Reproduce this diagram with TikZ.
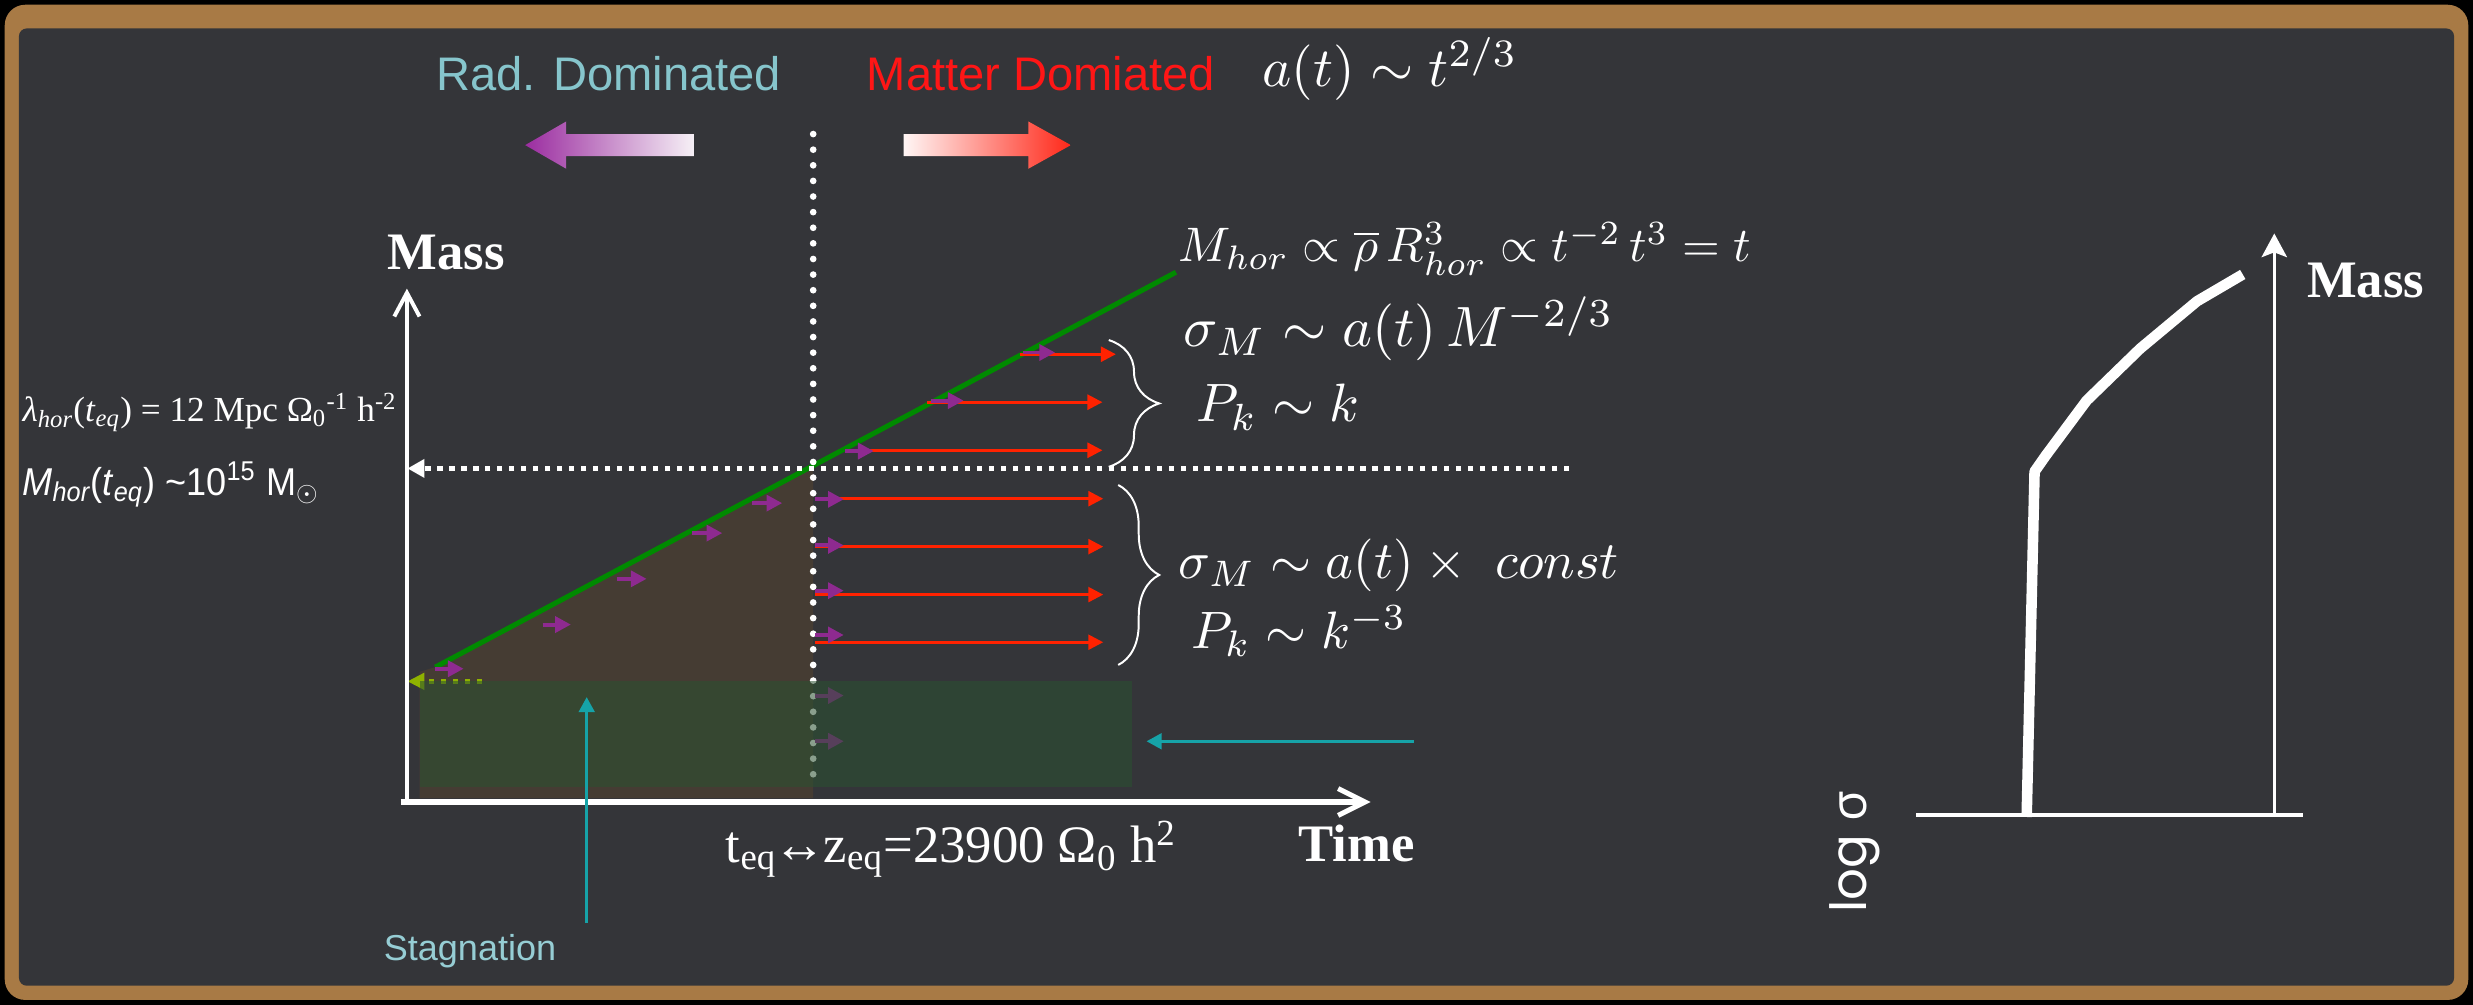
\documentclass[tikz,border=0pt]{standalone}
\usepackage{fontspec}
\usepackage{graphicx}
\usetikzlibrary{arrows.meta,decorations.pathreplacing}
\newfontfamily\arialf{Liberation Sans}
\newfontfamily\arialn[FakeStretch=0.93]{Liberation Sans}
\newfontfamily\timesf{Liberation Serif}
\newfontfamily\popf{Poppins}
\newfontfamily\opensf{Open Sans}
\definecolor{board}{RGB}{52,53,57}
\definecolor{framec}{RGB}{168,122,69}
\definecolor{tealtxt}{RGB}{134,197,204}
\definecolor{stagtxt}{RGB}{150,205,212}
\definecolor{mattred}{RGB}{255,22,22}
\definecolor{grn}{RGB}{0,138,0}
\definecolor{redarr}{RGB}{255,34,0}
\definecolor{purp}{RGB}{142,42,144}
\definecolor{cyanarr}{RGB}{22,163,168}
\definecolor{ygreen}{RGB}{143,178,0}
\definecolor{brownfill}{RGB}{87,68,46}
\definecolor{greenfill}{RGB}{42,81,49}
\definecolor{gpurp}{RGB}{155,45,160}
\definecolor{gwhite}{RGB}{246,240,246}
\definecolor{gwhiteb}{RGB}{255,246,245}
\definecolor{gred}{RGB}{255,40,25}
\begin{document}
\begin{tikzpicture}[x=0.2mm,y=-0.2mm,
  redarrow/.style={draw=redarr, line width=0.34mm, -{Triangle[length=1.9mm,width=1.9mm]}},
  purparrow/.style={draw=purp, line width=0.5mm, -{Triangle[length=2mm,width=2mm]}},
  cyanarrow/.style={draw=cyanarr, line width=0.32mm, -{Triangle[length=1.9mm,width=2mm]}},
  sqdots/.style={line width=0.66mm, dash pattern=on 0.66mm off 0.86mm},
  rounddots/.style={draw=white, line width=0.85mm, line cap=round, dash pattern=on 0mm off 1.98mm},
  lbl/.style={inner sep=0pt, text=white},
  bracestyle/.style={draw=white, line width=0.25mm, decorate},
]
\useasboundingbox (0,0) rectangle (1568,637);
\fill[black] (0,0) rectangle (1568,637);
\fill[framec, rounded corners=2.6mm] (3,3) rectangle (1565,634);
\fill[board, rounded corners=1mm] (12,18) rectangle (1556,625);

% top labels
\node[lbl, text=tealtxt, font=\arialf\fontsize{17}{20}\selectfont] (rad) at (386,47) {Rad. Dominated};
\node[lbl, text=mattred, font=\arialf\fontsize{17}{20}\selectfont] (mat) at (660,47) {Matter Domiated};
\node[lbl, anchor=base west] (atlaw) at (800,55) {\scalebox{2.0}{$a(t)\sim t^{2/3}$}};

% gradient arrows
\shade[left color=gpurp, right color=gwhite] (333,92) -- (359,77) -- (359,85) -- (440,85) -- (440,99) -- (359,99) -- (359,107) -- cycle;
\shade[left color=gwhiteb, right color=gred] (573,85) -- (652,85) -- (652,77) -- (679,92) -- (652,107) -- (652,99) -- (573,99) -- cycle;

% brown triangle
\fill[brownfill, opacity=0.5] (266,426) -- (276,423) -- (515.6,297) -- (515.6,506) -- (266,506) -- cycle;

% green horizon line
\coordinate (g0) at (276,423);
\coordinate (g1) at (745.6,172.6);
\draw[grn, line width=0.64mm] (g0) -- (g1);

% vertical dotted line
\coordinate (v0) at (515.6,85);
\coordinate (v1) at (515.6,493);
\draw[rounddots] (v0) -- (v1);

% horizontal dotted arrow
\coordinate (h0) at (995,297);
\coordinate (h1) at (267,297);
\draw[white, sqdots] (h0) -- (h1);
\fill[white] (258.5,297) -- (269,291) -- (269,303) -- cycle;

% yellow-green dotted arrow
\coordinate (y0) at (305.5,432);
\coordinate (y1) at (268,432);
\draw[ygreen, sqdots] (y0) -- (y1);
\fill[ygreen] (258.5,432) -- (269,426.5) -- (269,437.5) -- cycle;

% red arrows above horizon
\draw[redarrow] (647,224.6) -- (707.5,224.6);
\draw[redarrow] (588,255) -- (699,255);
\draw[redarrow] (536,285.5) -- (699,285.5);
% red arrows below horizon
\draw[redarrow] (517,316.2) -- (699.5,316.2);
\draw[redarrow] (517,346.6) -- (699.5,346.6);
\draw[redarrow] (517,377) -- (699.5,377);
\draw[redarrow] (517,407.2) -- (699.5,407.2);

% purple arrows
\draw[purparrow] (648.5,223.5) -- (669,223.5);
\draw[purparrow] (590,254) -- (611,254);
\draw[purparrow] (536,286) -- (554,286);
\draw[purparrow] (517,316.6) -- (535,316.6);
\draw[purparrow] (517,345.8) -- (535,345.8);
\draw[purparrow] (517,374.5) -- (535,374.5);
\draw[purparrow] (517,402.6) -- (535,402.6);
\draw[purparrow] (276,424) -- (294,424);
\draw[purparrow] (344,396) -- (362,396);
\draw[purparrow] (391,367) -- (410,367);
\draw[purparrow] (439,338) -- (458,338);
\draw[purparrow] (477,319) -- (496,319);
\draw[purparrow] (517,441) -- (535,441);
\draw[purparrow] (517,470) -- (535,470);

% green stagnation rectangle
\fill[greenfill, opacity=0.55] (266,432) rectangle (718,499);

% axes
\coordinate (yb) at (258,510);
\coordinate (ytop) at (258,183);
\coordinate (xb) at (254,508.5);
\coordinate (xend) at (869,508.5);
\draw[white, line width=0.5mm, -{Straight Barb[length=3mm,width=3.2mm]}] (yb) -- (ytop);
\draw[white, line width=0.64mm, -{Straight Barb[length=3.4mm,width=3.4mm]}] (xb) -- (xend);

\node[lbl, font=\timesf\bfseries\fontsize{19}{22}\selectfont] (mass) at (283,160) {Mass};
\node[lbl, font=\timesf\bfseries\fontsize{19}{22}\selectfont] (time) at (860,535) {Time};

% cyan arrows
\node[lbl, text=stagtxt, font=\arialf\fontsize{13}{15}\selectfont] (stag) at (298,603) {Stagnation};
\coordinate (c0) at (372,585);
\coordinate (c1) at (372,442);
\draw[cyanarrow] (c0) -- (c1);
\coordinate (c2) at (896.5,470);
\coordinate (c3) at (727,470);
\draw[cyanarrow] (c2) -- (c3);

% braces
\draw[bracestyle, decoration={brace, amplitude=6.4mm}] (703,215.6) -- (703,296);
\draw[bracestyle, decoration={brace, amplitude=5.2mm}] (709,307.5) -- (709,421.6);

% right formulas
\node[lbl, anchor=base west] (mhor) at (747,166) {\scalebox{1.75}{$M_{hor}\propto\overline{\rho}\,R^3_{hor}\propto t^{-2}\,t^3 = t$}};
\node[lbl, anchor=base west] (sig1) at (750,220) {\scalebox{2.05}{$\sigma_M\sim a(t)\,M^{-2/3}$}};
\node[lbl, anchor=base west] (pk1) at (758,267.5) {\scalebox{1.95}{$P_k\sim k$}};
\node[lbl, anchor=base west] (sig2) at (747,367) {\scalebox{1.9}{$\sigma_M\sim a(t)\times\ const$}};
\node[lbl, anchor=base west] (pk2) at (755,411) {\scalebox{1.9}{$P_k\sim k^{-3}$}};

% left labels
\node[lbl, anchor=base west, font=\timesf\fontsize{12.7}{15}\selectfont] (lam) at (14,267.5)
  {{\itshape λ\textsubscript{hor}}(\textit{t}\textsubscript{\itshape eq}) = 12 Mpc Ω\textsubscript{0}\textsuperscript{-1} h\textsuperscript{-2}};
\node[lbl, anchor=base west, font=\arialn\fontsize{14}{16}\selectfont] (mh) at (14,314)
  {{\itshape M\textsubscript{hor}}(\textit{t}\textsubscript{\itshape eq}) \textasciitilde10\textsuperscript{15} M$_\odot$};

\node[lbl, anchor=base, font=\timesf\fontsize{19}{22}\selectfont] (teq) at (603,547)
  {t\textsubscript{eq}\kern-1pt↔\kern-1pt z\textsubscript{eq}=23900 Ω\textsubscript{0} h\textsuperscript{2}};

% right plot
\coordinate (rb0) at (1215,517);
\coordinate (rb1) at (1460,517);
\draw[white, line width=0.5mm] (rb0) -- (rb1);
\coordinate (ra0) at (1442,517);
\coordinate (ra1) at (1442,148);
\draw[white, line width=0.45mm, -{Stealth[length=3mm,width=3.2mm,inset=0.6mm]}] (ra0) -- (ra1);
\draw[white, line width=1.34mm, line join=round] (1285,518) -- (1290,299) -- (1297,289) -- (1323,254) -- (1357,221) -- (1393,191) -- (1422,174);
\node[lbl, font=\timesf\bfseries\fontsize{19}{22}\selectfont] (mass2) at (1500,178) {Mass};
\node[lbl, rotate=90, font=\popf\fontsize{18}{22}\selectfont] (logs) at (1176,540) {log {\opensf σ}};
\end{tikzpicture}
\end{document}
